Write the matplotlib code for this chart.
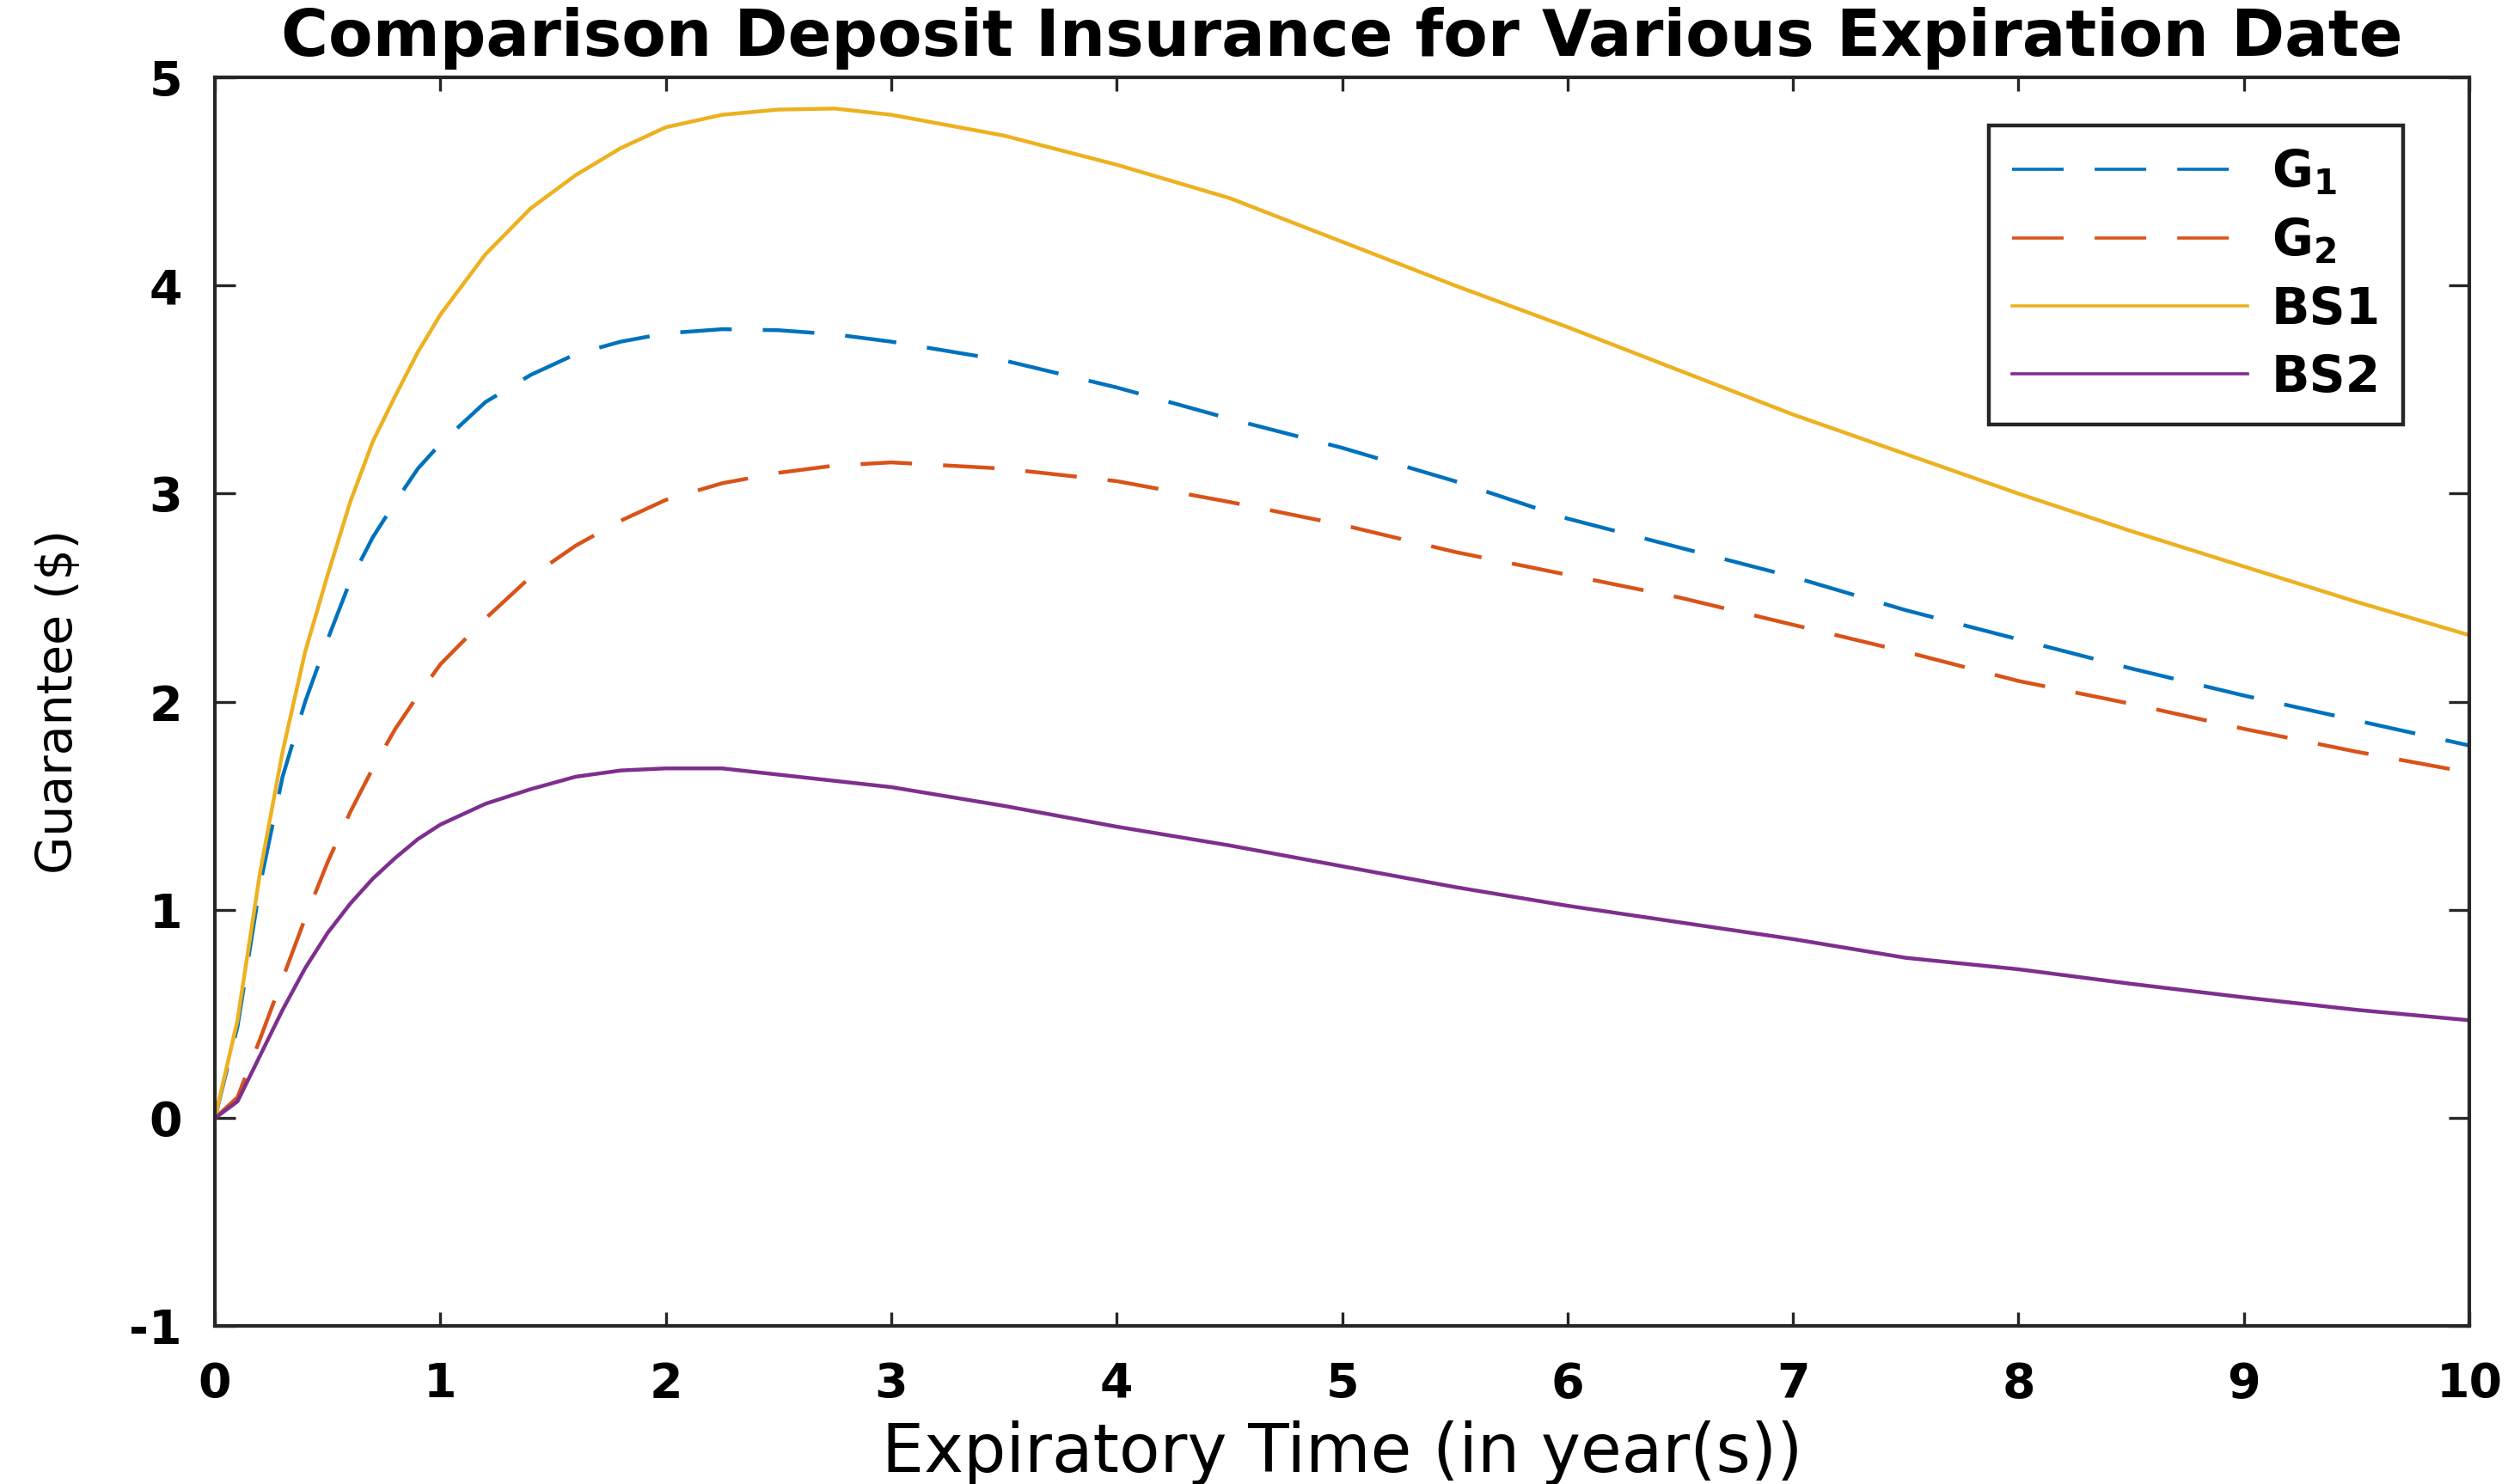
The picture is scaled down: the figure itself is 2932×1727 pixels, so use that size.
import matplotlib
matplotlib.use("Agg")
import matplotlib.pyplot as plt

# ---- data ----
t = [0, 0.1, 0.2, 0.3, 0.4, 0.5, 0.6, 0.7, 0.8, 0.9, 1.0, 1.2, 1.4, 1.6, 1.8,
     2.0, 2.25, 2.5, 2.75, 3.0, 3.5, 4.0, 4.5, 5.0, 5.5, 6.0, 6.5, 7.0, 7.5,
     8.0, 8.5, 9.0, 9.5, 10.0]

G1 = [0, 0.44, 1.12, 1.64, 2.00, 2.30, 2.58, 2.79, 2.96, 3.12, 3.24, 3.44, 3.57,
      3.67, 3.73, 3.77, 3.79, 3.785, 3.765, 3.73, 3.64, 3.51, 3.36, 3.22, 3.06,
      2.88, 2.74, 2.60, 2.44, 2.30, 2.16, 2.03, 1.91, 1.79]

G2 = [0, 0.10, 0.38, 0.67, 0.96, 1.23, 1.47, 1.68, 1.87, 2.03, 2.18, 2.40, 2.60,
      2.75, 2.87, 2.97, 3.05, 3.10, 3.135, 3.15, 3.12, 3.06, 2.96, 2.85, 2.72,
      2.61, 2.50, 2.37, 2.24, 2.10, 1.99, 1.87, 1.76, 1.66]

BS1 = [0, 0.47, 1.18, 1.76, 2.24, 2.61, 2.96, 3.25, 3.47, 3.68, 3.86, 4.15, 4.37,
       4.53, 4.66, 4.76, 4.82, 4.845, 4.85, 4.82, 4.72, 4.58, 4.42, 4.21, 4.00,
       3.80, 3.59, 3.38, 3.19, 3.00, 2.82, 2.65, 2.48, 2.32]

BS2 = [0, 0.08, 0.30, 0.52, 0.72, 0.89, 1.03, 1.15, 1.25, 1.34, 1.41, 1.51, 1.58,
       1.64, 1.67, 1.68, 1.68, 1.65, 1.62, 1.59, 1.50, 1.40, 1.31, 1.21, 1.11,
       1.02, 0.94, 0.86, 0.77, 0.715, 0.645, 0.58, 0.52, 0.47]

labels = [r"$\mathbf{G_1}$", r"$\mathbf{G_2}$", "BS1", "BS2"]
xticks = list(range(0, 11))
yticks = list(range(-1, 6))

title = "Comparison Deposit Insurance for Various Expiration Date"
xlabel = "Expiratory Time (in year(s))"
ylabel = "Guarantee ($)"

# ---- style ----
plt.rcParams["font.family"] = ["DejaVu Sans"]
plt.rcParams["axes.unicode_minus"] = False
plt.rcParams["lines.scale_dashes"] = False
plt.rcParams["mathtext.fontset"] = "dejavusans"

c_blue = "#0072BD"
c_orange = "#D95319"
c_yellow = "#EDB120"
c_purple = "#7E2F8E"
axis_col = "#262626"

fig = plt.figure(figsize=(14.66, 8.635), dpi=200)
ax = fig.add_axes([0.0853, 0.1063, 0.9799 - 0.0853, 0.9479 - 0.1063])

lw = 1.6
dash = (0, (21.6, 13.0))
ax.plot(t, G1, color=c_blue, lw=lw, linestyle=dash, label=labels[0])
ax.plot(t, G2, color=c_orange, lw=lw, linestyle=dash, label=labels[1])
ax.plot(t, BS1, color=c_yellow, lw=lw, label=labels[2])
ax.plot(t, BS2, color=c_purple, lw=lw, label=labels[3])

ax.set_xlim(0, 10)
ax.set_ylim(-1, 5)
ax.set_xticks(xticks)
ax.set_yticks(yticks)

for s in ax.spines.values():
    s.set_linewidth(1.5)
    s.set_color(axis_col)

ax.tick_params(axis="both", direction="in", top=True, right=True,
               color=axis_col, labelcolor="black", width=1.2)
ax.tick_params(axis="x", length=5.8, pad=14.5, labelsize=20)
ax.tick_params(axis="y", length=8.6, pad=13.7, labelsize=20)
for lab in ax.get_xticklabels() + ax.get_yticklabels():
    lab.set_fontweight("bold")

ax.set_title(title, fontsize=27, fontweight="bold", pad=9)
ax.set_xlabel(xlabel, fontsize=28, va="baseline")
ax.xaxis.set_label_coords(0.5, -0.1166)
ax.set_ylabel(ylabel, fontsize=20.5, va="center")
ax.yaxis.set_label_coords(-0.0694, 0.5)

leg = ax.legend(loc="upper right", bbox_to_anchor=(0.9707, 0.9615),
                bbox_transform=ax.transAxes, borderaxespad=0,
                fancybox=False, framealpha=1, edgecolor=axis_col,
                prop={"size": 21, "weight": "bold"},
                handlelength=4.7, handletextpad=0.48, borderpad=0.45,
                labelspacing=0.38)
leg.get_frame().set_linewidth(1.6)
for line in leg.get_lines():
    line.set_linewidth(1.3)

fig.savefig("out.png", dpi=200, facecolor="white")
